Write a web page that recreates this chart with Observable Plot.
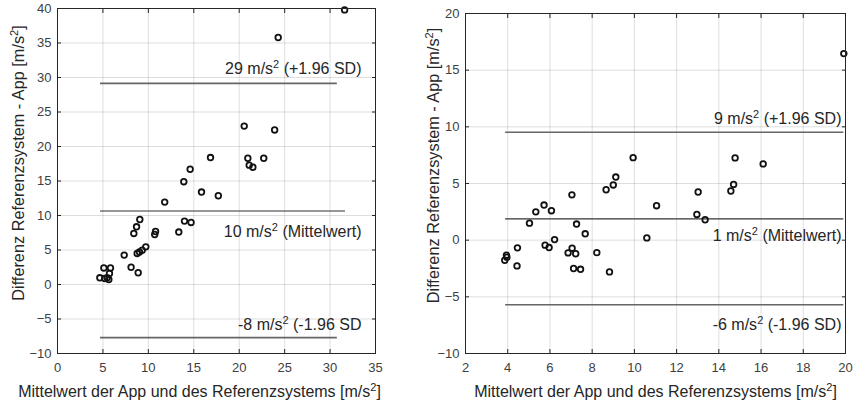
<!DOCTYPE html>
<html>
<head>
<meta charset="utf-8">
<script src="https://cdn.jsdelivr.net/npm/d3@7"></script>
<script src="https://cdn.jsdelivr.net/npm/@observablehq/plot@0.6"></script>
<style>
  html, body { margin: 0; padding: 0; background: #fff; }
  #wrap { display: flex; width: 856px; height: 402px; }
  #wrap > div { width: 428px; height: 402px; }
  svg { font-family: "Liberation Sans", Arial, sans-serif; overflow: visible; }
</style>
</head>
<body>
<div id="wrap"><div id="left"></div><div id="right"></div></div>
<script>
// ---- Left panel data ----
const leftMean = [4.66, 5.1, 5.2, 5.47, 5.65, 5.83, 5.72, 7.34, 8.1, 8.88, 8.4, 8.7, 9.06, 8.77, 9.02, 9.32, 9.72, 10.7, 10.79, 11.8, 13.35, 13.98, 14.7, 13.9, 15.85, 17.7, 14.6, 16.84, 20.55, 20.95, 21.1, 21.5, 22.7, 23.9, 24.29, 31.6];
const leftDiff = [0.97, 2.4, 0.87, 0.97, 0.72, 2.4, 1.6, 4.26, 2.5, 1.7, 7.4, 8.36, 9.42, 4.5, 4.7, 4.98, 5.46, 7.25, 7.68, 11.94, 7.6, 9.19, 8.99, 14.9, 13.4, 12.86, 16.7, 18.4, 22.96, 18.3, 17.3, 17.0, 18.3, 22.4, 35.8, 39.8];
const leftLimits = [29.15, 10.65, -7.7];
const leftLimitStart = [4.73, 4.73, 4.73];
const leftLimitEnd = [30.8, 31.7, 30.8];
const leftLabels = ["29 m/s² (+1.96 SD)", "10 m/s² (Mittelwert)", "-8 m/s² (-1.96 SD"];
const leftXTicks = [0, 5, 10, 15, 20, 25, 30, 35];
const leftYTicks = [-10, -5, 0, 5, 10, 15, 20, 25, 30, 35, 40];

// ---- Right panel data ----
const rightMean = [3.86, 3.94, 3.96, 4.46, 4.44, 5.03, 5.33, 5.72, 6.07, 5.77, 5.96, 6.22, 7.04, 7.26, 7.67, 6.86, 7.05, 7.22, 7.12, 7.45, 8.22, 8.82, 8.66, 9.0, 9.12, 9.94, 10.59, 11.05, 13.02, 12.96, 13.35, 14.57, 14.7, 14.77, 16.1, 19.92];
const rightDiff = [-1.77, -1.33, -1.5, -0.68, -2.27, 1.5, 2.5, 3.1, 2.6, -0.44, -0.65, 0.05, 4.0, 1.42, 0.56, -1.12, -0.71, -1.2, -2.5, -2.57, -1.1, -2.8, 4.45, 4.87, 5.57, 7.28, 0.2, 3.04, 4.25, 2.27, 1.8, 4.34, 4.92, 7.26, 6.73, 16.46];
const rightLimits = [9.52, 1.88, -5.7];
const rightLimitStart = [3.9, 3.9, 3.9];
const rightLimitEnd = [19.92, 19.92, 19.92];
const rightLabels = ["9 m/s² (+1.96 SD)", "1 m/s² (Mittelwert)", "-6 m/s² (-1.96 SD)"];
const rightXTicks = [2, 4, 6, 8, 10, 12, 14, 16, 18, 20];
const rightYTicks = [-10, -5, 0, 5, 10, 15, 20];

const xLabel = "Mittelwert der App und des Referenzsystems [m/s²]";
const yLabel = "Differenz Referenzsystem - App [m/s²]";

function panel(cfg) {
  const pts = cfg.mean.map((m, i) => ({m, d: cfg.diff[i]}));
  const lims = cfg.limits.map((v, i) => ({v, x1: cfg.start[i], x2: cfg.end[i], label: cfg.labels[i], i}));
  const limStyle = i => i === 1 ? {stroke: "#333", strokeWidth: 1.2} : {stroke: "#666", strokeWidth: 1.7};
  return Plot.plot({
    width: 428, height: 402,
    marginLeft: cfg.ml, marginRight: cfg.mr, marginTop: cfg.mt, marginBottom: 49,
    style: {fontFamily: "Liberation Sans, Arial, sans-serif", background: "transparent"},
    x: {domain: cfg.xdom},
    y: {domain: cfg.ydom},
    marks: [
      Plot.gridX(cfg.xticks, {stroke: "#000", strokeOpacity: 0.13}),
      Plot.gridY(cfg.yticks, {stroke: "#000", strokeOpacity: 0.13}),
      Plot.axisX(cfg.xticks, {anchor: "bottom", tickSize: 0, tickPadding: 9, fontSize: 13, color: "#404040", label: null}),
      Plot.axisY(cfg.yticks, {anchor: "left", tickSize: 0, tickPadding: 6, fontSize: 13, color: "#404040", label: null}),
      Plot.axisX(cfg.xticks, {anchor: "bottom", tickSize: -4, tickFormat: () => "", label: null, color: "#262626"}),
      Plot.axisX(cfg.xticks, {anchor: "top", tickSize: -4, tickFormat: () => "", label: null, color: "#262626"}),
      Plot.axisY(cfg.yticks, {anchor: "left", tickSize: -4, tickFormat: () => "", label: null, color: "#262626"}),
      Plot.axisY(cfg.yticks, {anchor: "right", tickSize: -4, tickFormat: () => "", label: null, color: "#262626"}),
      ...lims.map(l => Plot.ruleY([l], {y: "v", x1: "x1", x2: "x2", ...limStyle(l.i)})),
      ...lims.map(l => Plot.text([l], {y: "v", text: "label", frameAnchor: "right", textAnchor: "end", lineAnchor: "middle", dx: cfg.labelDx, dy: cfg.labelDy[l.i], fontSize: 16, fill: "#262626"})),
      Plot.dot(pts, {x: "m", y: "d", r: 2.8, stroke: "#111", strokeWidth: 1.8, fill: "none"}),
      Plot.frame({stroke: "#262626", strokeWidth: 1}),
      Plot.text([xLabel], {frameAnchor: "bottom", text: d => d, textAnchor: "middle", lineAnchor: "middle", dy: 38, dx: cfg.xLabelDx, fontSize: 16, fill: "#262626"}),
      Plot.text([yLabel], {frameAnchor: "left", text: d => d, rotate: -90, textAnchor: "middle", lineAnchor: "middle", dx: -cfg.yLabelOff, dy: -18, fontSize: 16.3, fill: "#262626"})
    ]
  });
}

function superscript(svg) {
  d3.select(svg).selectAll("text").each(function() {
    const t = this.textContent;
    if (!t.includes("²") || this.querySelector("tspan")) return;
    const parts = t.split("²");
    const sel = d3.select(this);
    sel.text(null);
    parts.forEach((p, i) => {
      const ts = sel.append("tspan").text(p);
      if (i > 0) ts.attr("dy", 6);
      if (i < parts.length - 1) {
        sel.append("tspan").attr("dy", -6).attr("font-size", 11).text("2");
      }
    });
  });
}

const left = panel({
  mean: leftMean, diff: leftDiff, limits: leftLimits, start: leftLimitStart, end: leftLimitEnd, labels: leftLabels,
  xticks: leftXTicks, yticks: leftYTicks, xdom: [0, 35], ydom: [-10, 40],
  ml: 57, mr: 53, mt: 8, labelDx: -14, labelDy: [-14, 21, -13], xLabelDx: -17, yLabelOff: 39
});
const right = panel({
  mean: rightMean, diff: rightDiff, limits: rightLimits, start: rightLimitStart, end: rightLimitEnd, labels: rightLabels,
  xticks: rightXTicks, yticks: rightYTicks, xdom: [2, 20], ydom: [-10, 20],
  ml: 37, mr: 11, mt: 13, labelDx: -4, labelDy: [-13, 17, 20], xLabelDx: 0, yLabelOff: 32
});
superscript(left); superscript(right);
document.getElementById("left").appendChild(left);
document.getElementById("right").appendChild(right);
</script>
</body>
</html>
